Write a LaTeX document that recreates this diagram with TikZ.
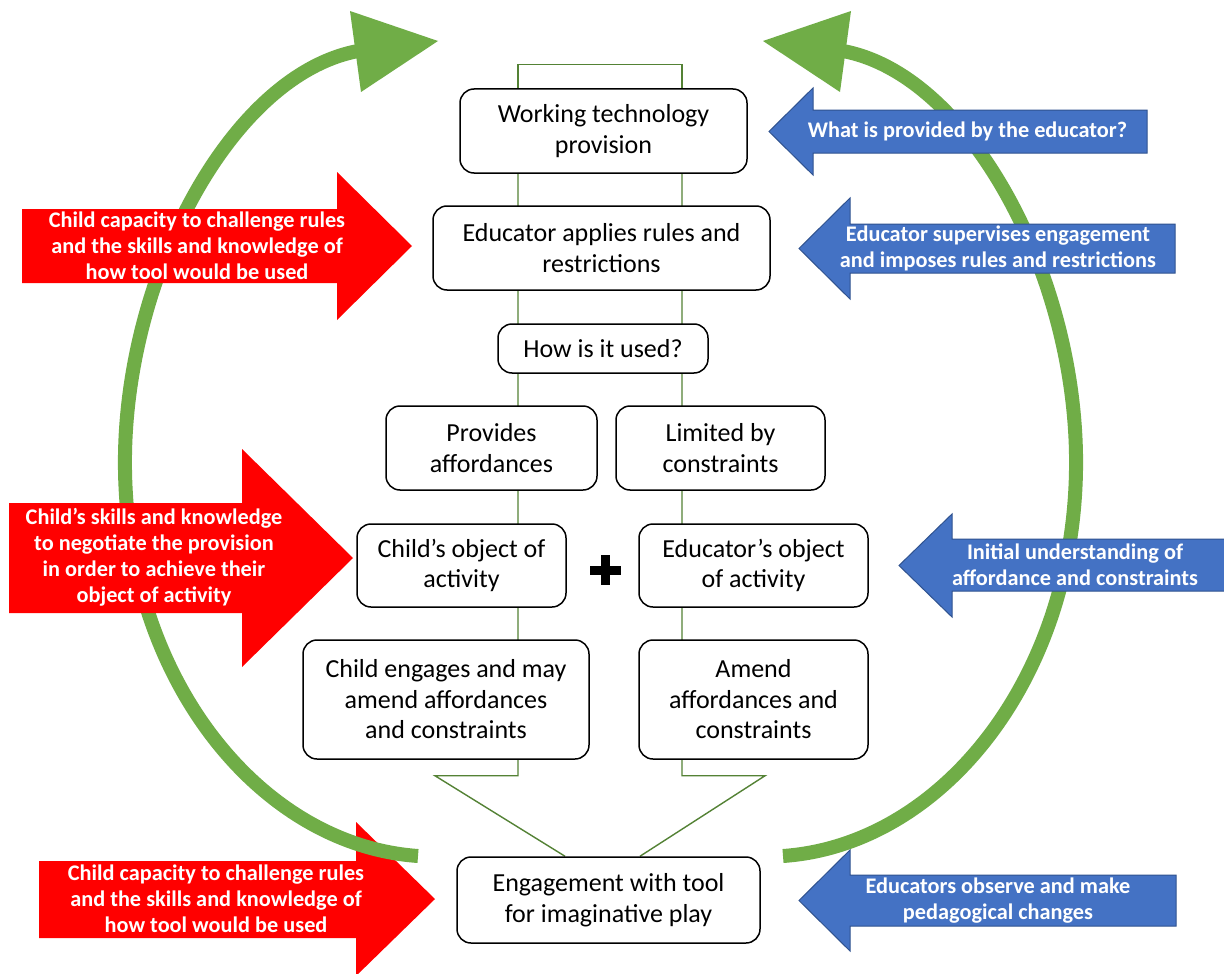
\documentclass[tikz,border=0pt]{standalone}
\usepackage{fontspec}
\setmainfont{Carlito}
\definecolor{arcgreen}{HTML}{70AD47}
\definecolor{linegreen}{HTML}{548235}
\definecolor{bluefill}{HTML}{4472C4}
\definecolor{blueedge}{HTML}{2F528F}
\pgfdeclarelayer{back}
\pgfsetlayers{back,main}
\begin{document}
\begin{tikzpicture}[x=1pt,y=-1pt,
  box/.style={draw=black, line width=1.5pt, fill=white, rounded corners=14pt,
    align=center, inner sep=0pt, font=\fontsize{26}{30.5}\selectfont},
  link/.style={draw=linegreen, line width=1.4pt},
  loop/.style={draw=arcgreen, line width=14pt},
  loophead/.style={fill=arcgreen},
  redarrow/.style={fill=red},
  bluearrow/.style={fill=bluefill, draw=blueedge, line width=1pt},
  lbl/.style={text=white, font=\bfseries\fontsize{22.3}{26}\selectfont,
    align=center, inner sep=0pt}]
\useasboundingbox (0,0) rectangle (1224,974);
\clip (0,0) rectangle (1224,974);

% bottom red arrow sits under the loop
\fill[redarrow] (39,861) -- (356,861) -- (356,822) -- (435,899) -- (356,976)
  -- (356,938) -- (39,938) -- cycle;

% the two green loop arrows
\draw[loop] (418,856) .. controls (260,845) and (128,680) .. (125,470)
  .. controls (122,280) and (230,75) .. (358,51);
\fill[loophead] (350,11) -- (438,41) -- (361,92) -- cycle;
\begin{scope}[xshift=1201pt, xscale=-1]
  \draw[loop] (418,856) .. controls (260,845) and (128,680) .. (125,470)
    .. controls (122,280) and (230,75) .. (358,51);
  \fill[loophead] (350,11) -- (438,41) -- (361,92) -- cycle;
\end{scope}

% red block arrows (child side)
\fill[redarrow] (22,209) -- (337,209) -- (337,172) -- (412,246) -- (337,320)
  -- (337,283) -- (22,283) -- cycle;
\fill[redarrow] (9,503) -- (242,503) -- (242,449) -- (353,558) -- (242,667)
  -- (242,613) -- (9,613) -- cycle;

% blue block arrows (educator side)
\draw[bluearrow] (1147,110) -- (813,110) -- (813,88) -- (769,131.5) -- (813,175)
  -- (813,153) -- (1147,153) -- cycle;
\draw[bluearrow] (1175,224) -- (850,224) -- (850,198) -- (799,248.5) -- (850,299)
  -- (850,273) -- (1175,273) -- cycle;
\draw[bluearrow] (1235,539) -- (952,539) -- (952,514) -- (899,565.5) -- (952,617)
  -- (952,591) -- (1235,591) -- cycle;
\draw[bluearrow] (1176,875) -- (850,875) -- (850,850) -- (799,900.5) -- (850,951)
  -- (850,926) -- (1176,926) -- cycle;

% arrow labels
\node[lbl] (r1) at (197,246) {Child capacity to challenge rules\\and the skills and knowledge of\\how tool would be used};
\node[lbl] (r2) at (154,557) {Child’s skills and knowledge\\to negotiate the provision\\in order to achieve their\\object of activity};
\node[lbl] (r3) at (216,899) {Child capacity to challenge rules\\and the skills and knowledge of\\how tool would be used};
\node[lbl] (u1) at (967.5,131) {What is provided by the educator?};
\node[lbl] (u2) at (998,248) {Educator supervises engagement\\and imposes rules and restrictions};
\node[lbl] (u3) at (1075,565) {Initial understanding of\\affordance and constraints};
\node[lbl] (u4) at (998,901) {Educators observe and make\\pedagogical changes};

% process boxes
\node[box, minimum width=287pt, minimum height=84pt] (b1) at (603.5,131) {Working technology\\provision};
\node[box, minimum width=337pt, minimum height=84pt] (b2) at (601.5,248) {Educator applies rules and\\restrictions};
\node[box, minimum width=210pt, minimum height=49pt] (b3) at (603,348.5) {How is it used?};
\node[box, minimum width=211pt, minimum height=84pt] (b4) at (491.5,448) {Provides\\affordances};
\node[box, minimum width=209pt, minimum height=84pt] (b5) at (720.5,448) {Limited by\\constraints};
\node[box, minimum width=209pt, minimum height=83pt] (b6) at (461.5,565.5) {Child’s object of\\activity};
\node[box, minimum width=229pt, minimum height=83pt] (b7) at (753.5,565.5) {Educator’s object\\of activity};
\node[box, minimum width=286pt, minimum height=119pt] (b8) at (446,699.5) {Child engages and may\\amend affordances\\and constraints};
\node[box, minimum width=229pt, minimum height=119pt] (b9) at (753.5,699.5) {Amend\\affordances and\\constraints};
\node[box, minimum width=303pt, minimum height=86pt] (b10) at (608.5,900) {Engagement with tool\\for imaginative play};

% plus sign between the two objects of activity
\fill (590,565.5) rectangle (621,574.5);
\fill (601,555) rectangle (610,585);

% thin green rails behind the boxes
\begin{pgfonlayer}{back}
  \fill[white] (0,0) rectangle (1224,974);
  \coordinate (xL) at (518,0);
  \coordinate (xR) at (682,0);
  \draw[link] (b1.north -| xL) -- ++(0,-24) -| (b1.north -| xR);
  \draw[link] (b1.south -| xL) -- (b8.south -| xL) -- ++(0,16) -- ++(-83,0)
    -- ([xshift=-43.5pt]b10.north);
  \draw[link] (b1.south -| xR) -- (b9.south -| xR) -- ++(0,16) -- ++(83,0)
    -- ([xshift=31.5pt]b10.north);
\end{pgfonlayer}
\end{tikzpicture}
\end{document}
